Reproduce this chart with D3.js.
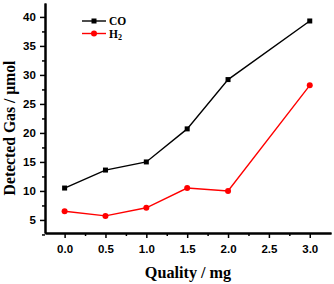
<!DOCTYPE html>
<html><head><meta charset="utf-8">
<script src="https://cdn.jsdelivr.net/npm/d3@7"></script>
<style>html,body{margin:0;padding:0;background:#fff;}</style>
</head><body>
<svg id="c" width="334" height="284"></svg>
<script>
const xValues = [0.0, 0.5, 1.0, 1.5, 2.0, 3.0];
const coValues = [10.5, 13.6, 15.0, 20.7, 29.2, 39.3];
const h2Values = [6.5, 5.7, 7.1, 10.5, 10.0, 28.2];
const xTicks = [0.0, 0.5, 1.0, 1.5, 2.0, 2.5, 3.0];
const yTicks = [5, 10, 15, 20, 25, 30, 35, 40];
const seriesNames = ["CO", "H2"];

const svg = d3.select("#c");
const L = 45, R = 331, T = 3, B = 233;
const x = d3.scaleLinear().domain([-0.24, 3.26]).range([L, R]);
const y = d3.scaleLinear().domain([2.75, 42.4]).range([B, T]);

const g = svg.append("g");
// x axis
const xa = g.append("g").attr("transform", `translate(0,${B})`)
  .call(d3.axisBottom(x).tickValues(xTicks).tickFormat(d3.format(".1f")).tickSize(5).tickSizeOuter(0));
const xm = g.append("g").attr("transform", `translate(0,${B})`)
  .call(d3.axisBottom(x).tickValues(d3.range(0, 3.01, 0.25).filter(v => Math.abs(v*2 - Math.round(v*2)) > 0.01)).tickFormat("").tickSize(3).tickSizeOuter(0));
const ya = g.append("g").attr("transform", `translate(${L},0)`)
  .call(d3.axisLeft(y).tickValues(yTicks).tickSize(5).tickSizeOuter(0));
const ym = g.append("g").attr("transform", `translate(${L},0)`)
  .call(d3.axisLeft(y).tickValues(d3.range(2.5, 42.5, 5)).tickFormat("").tickSize(3).tickSizeOuter(0));
[xa, xm, ya, ym].forEach(a => {
  a.select(".domain").attr("stroke", "#000").attr("stroke-width", 2);
  a.selectAll(".tick line").attr("stroke", "#000").attr("stroke-width", 1.5);
  a.selectAll("text").attr("font-family", "Liberation Sans, Arial, sans-serif")
    .attr("font-weight", "bold").attr("font-size", 11.5).attr("fill", "#000");
});
xa.selectAll("text").attr("dy", "1.05em");
ya.selectAll("text").attr("dx", "-0.1em");

// lines
const line = d3.line().x((d, i) => x(xValues[i])).y(d => y(d));
g.append("path").datum(coValues).attr("d", line).attr("fill", "none").attr("stroke", "#000").attr("stroke-width", 1.4);
g.append("path").datum(h2Values).attr("d", line).attr("fill", "none").attr("stroke", "#ff0000").attr("stroke-width", 1.4);
g.selectAll(".co").data(coValues).enter().append("rect")
  .attr("x", (d, i) => x(xValues[i]) - 2.5).attr("y", d => y(d) - 2.5)
  .attr("width", 5).attr("height", 5).attr("fill", "#000");
g.selectAll(".h2").data(h2Values).enter().append("circle")
  .attr("cx", (d, i) => x(xValues[i])).attr("cy", d => y(d)).attr("r", 3).attr("fill", "#ff0000");

// legend
const lg = g.append("g");
lg.append("line").attr("x1", 82).attr("x2", 106).attr("y1", 21).attr("y2", 21).attr("stroke", "#000").attr("stroke-width", 1.4);
lg.append("rect").attr("x", 91.5).attr("y", 18.5).attr("width", 5).attr("height", 5).attr("fill", "#000");
lg.append("line").attr("x1", 82).attr("x2", 106).attr("y1", 33.5).attr("y2", 33.5).attr("stroke", "#ff0000").attr("stroke-width", 1.4);
lg.append("circle").attr("cx", 94).attr("cy", 33.5).attr("r", 3).attr("fill", "#ff0000");
lg.append("text").attr("x", 109).attr("y", 25).attr("font-family", "Liberation Serif, Times New Roman, serif")
  .attr("font-weight", "bold").attr("font-size", 11.5).text(seriesNames[0]);
const ht = lg.append("text").attr("x", 109).attr("y", 37.5).attr("font-family", "Liberation Serif, Times New Roman, serif")
  .attr("font-weight", "bold").attr("font-size", 11.5);
ht.append("tspan").text("H");
ht.append("tspan").attr("font-size", 8).attr("dy", 2.5).text("2");

// axis titles
g.append("text").attr("x", 188).attr("y", 277.5).attr("text-anchor", "middle")
  .attr("font-family", "Liberation Serif, Times New Roman, serif").attr("font-weight", "bold").attr("font-size", 16.2)
  .text("Quality / mg");
g.append("text").attr("transform", `translate(15,128) rotate(-90)`).attr("text-anchor", "middle")
  .attr("font-family", "Liberation Serif, Times New Roman, serif").attr("font-weight", "bold").attr("font-size", 15.7)
  .text("Detected Gas / μmol");
</script>
</body></html>
